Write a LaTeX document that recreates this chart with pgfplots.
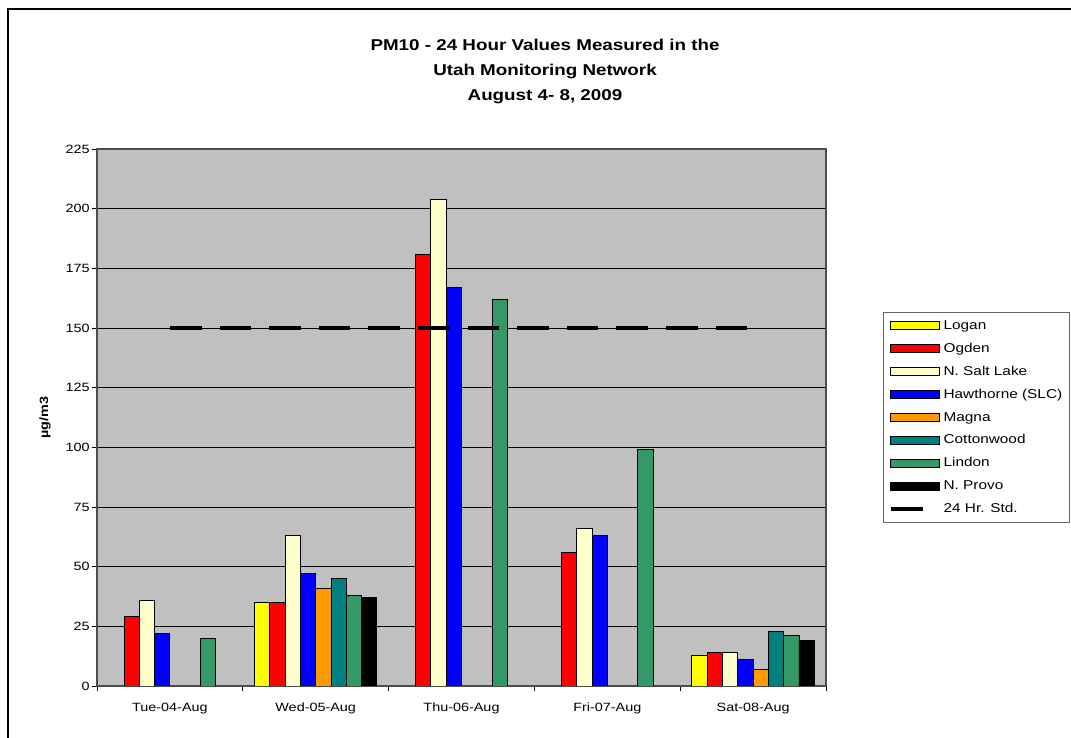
\documentclass[border=0pt]{standalone}
\usepackage{fontspec}
\setmainfont{Liberation Sans}[FakeStretch=1.2]
\usepackage{pgfplots}
\pgfplotsset{compat=1.18}

% station colours
\definecolor{cLogan}{HTML}{FFFF00}
\definecolor{cOgden}{HTML}{FF0000}
\definecolor{cNSalt}{HTML}{FFFFCC}
\definecolor{cHawth}{HTML}{0000FF}
\definecolor{cMagna}{HTML}{FF9900}
\definecolor{cCotton}{HTML}{008080}
\definecolor{cLindon}{HTML}{339966}
\definecolor{cProvo}{HTML}{000000}
\definecolor{plotbg}{HTML}{C0C0C0}

\pgfplotsset{
  station/.style={ybar, bar width=11.47pt, draw=black, line width=0.7pt,
    fill=#1,
    legend image code/.code={%
      \draw[##1] (0pt,-3pt) rectangle (37pt,3pt);}},
  stdlegend/.style={
    legend image code/.code={%
      \draw[##1,solid,line width=3pt] (0pt,0pt) -- (24pt,0pt);
      \path (37pt,0pt);}},
}

\begin{document}
\begin{tikzpicture}[x=1pt,y=1pt]
\begin{scope}
  \clip (0,0) rectangle (803.25,553.5);
  \draw[line width=2.2pt] (6,-10) -- (6,546.75) -- (815,546.75);
\end{scope}

\begin{scope}[font=\fontsize{11.75}{13}\selectfont\bfseries]
  \node[anchor=base] at (408.75,515.5) {PM10 - 24 Hour Values Measured in the};
  \node[anchor=base] at (408.75,496.75) {Utah Monitoring Network};
  \node[anchor=base] at (408.75,478.0) {August 4- 8, 2009};
\end{scope}

\node[font=\fontsize{9}{11}\selectfont\bfseries, rotate=90] at (33.75,240.4) {µg/m3};

\begin{axis}[
  at={(72.75pt,39pt)}, anchor=south west,
  scale only axis, width=546.75pt, height=402.75pt,
  xmin=-0.5, xmax=4.5, ymin=0, ymax=225,
  axis background/.style={fill=plotbg},
  axis line style={black!70, line width=0.8pt},
  ytick={0,25,...,225},
  xtick={0,1,2,3,4},
  xticklabels={Tue-04-Aug,Wed-05-Aug,Thu-06-Aug,Fri-07-Aug,Sat-08-Aug},
  minor xtick={-0.5,0.5,1.5,2.5,3.5,4.5},
  major x tick style={draw=none},
  tick style={black, line width=0.6pt},
  tick align=outside, tick pos=left,
  major tick length=3.75pt, minor tick length=3.75pt,
  ymajorgrids, major grid style={black, line width=0.6pt},
  /pgf/number format/assume math mode=true,
  ticklabel style={font=\fontsize{9}{11}\selectfont},
  xticklabel style={anchor=north, inner sep=0pt, text height=6.5pt, yshift=-9pt},
  yticklabel style={inner sep=0pt, xshift=-1.5pt},
  legend style={at={(rel axis cs:1.078,0.6965)}, anchor=north west,
    draw=black!60, fill=white, line width=0.6pt,
    font=\fontsize{9.6}{12}\selectfont,
    inner xsep=4pt, inner ysep=4.5pt, row sep=6pt, column sep=0pt,
    nodes={inner sep=1pt, text height=7.2pt, text depth=2pt}},
  legend cell align=left,
]
\addplot[station=cLogan,  bar shift=-40.15pt] coordinates {(1,35) (4,13)};
\addlegendentry{Logan}
\addplot[station=cOgden,  bar shift=-28.68pt] coordinates {(0,29) (1,35) (2,181) (3,56) (4,14)};
\addlegendentry{Ogden}
\addplot[station=cNSalt,  bar shift=-17.21pt] coordinates {(0,36) (1,63) (2,204) (3,66) (4,14)};
\addlegendentry{N. Salt Lake}
\addplot[station=cHawth,  bar shift=-5.74pt]  coordinates {(0,22) (1,47) (2,167) (3,63) (4,11)};
\addlegendentry{Hawthorne (SLC)}
\addplot[station=cMagna,  bar shift=5.74pt]   coordinates {(1,41) (4,7)};
\addlegendentry{Magna}
\addplot[station=cCotton, bar shift=17.21pt]  coordinates {(1,45) (4,23)};
\addlegendentry{Cottonwood}
\addplot[station=cLindon, bar shift=28.68pt]  coordinates {(0,20) (1,38) (2,162) (3,99) (4,21)};
\addlegendentry{Lindon}
\addplot[station=cProvo,  bar shift=40.15pt]  coordinates {(1,37) (4,19)};
\addlegendentry{N. Provo}
% 24-hour standard
\addplot[sharp plot, mark=none, black, line width=3.5pt,
  dash pattern=on 23.8pt off 13.4pt, stdlegend] coordinates {(0,150) (4,150)};
\addlegendentry{24 Hr. Std.}
\end{axis}

% fixed page size
\pgfresetboundingbox
\path[use as bounding box] (0,0) rectangle (803.25,553.5);
\end{tikzpicture}
\end{document}
